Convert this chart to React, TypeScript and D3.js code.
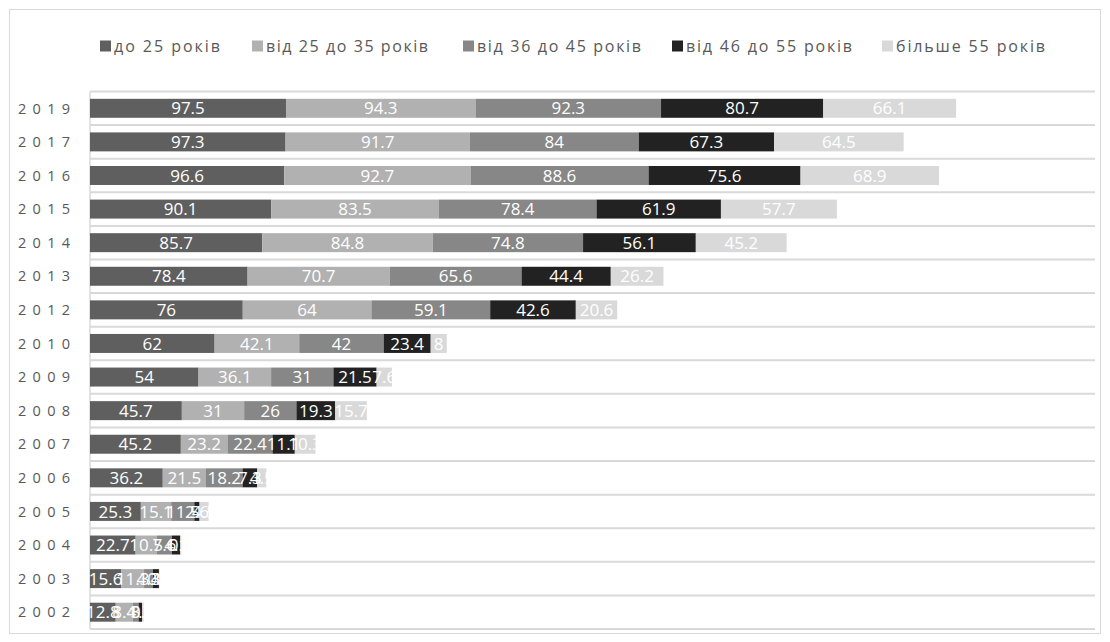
import React from "react";
import * as d3 from "d3";

const years = ["2019", "2017", "2016", "2015", "2014", "2013", "2012", "2010", "2009", "2008", "2007", "2006", "2005", "2004", "2003", "2002"];
const seriesNames = ["до 25 років", "від 25 до 35 років", "від 36 до 45 років", "від 46 до 55 років", "більше 55 років"];
const under25 = [97.5, 97.3, 96.6, 90.1, 85.7, 78.4, 76, 62, 54, 45.7, 45.2, 36.2, 25.3, 22.7, 15.6, 12.8];
const age25to35 = [94.3, 91.7, 92.7, 83.5, 84.8, 70.7, 64, 42.1, 36.1, 31, 23.2, 21.5, 15.1, 10.5, 11.3, 8.4];
const age36to45 = [92.3, 84, 88.6, 78.4, 74.8, 65.6, 59.1, 42, 31, 26, 22.4, 18.2, 11.5, 7.6, 4.4, 3.0];
const age46to55 = [80.7, 67.3, 75.6, 61.9, 56.1, 44.4, 42.6, 23.4, 21.5, 19.3, 11.1, 7.3, 2.6, 4.1, 3.0, 1.7];
const over55 = [66.1, 64.5, 68.9, 57.7, 45.2, 26.2, 20.6, 8, 7.6, 15.7, 10.3, 4.5, 4.5, 0.5, 0.3, 0.8];
const colors = ["#5f5f5f", "#b1b1b1", "#878787", "#222222", "#d9d9d9"];
const xMax = 500;

const seriesValues = [under25, age25to35, age36to45, age46to55, over55];
const legendX = [100, 252, 463, 672, 882];
const legendTextWidth = [106, 162, 164, 166, 149];

export default function App() {
  const left = 90;
  const right = 1095;
  const top = 91.5;
  const bottom = 629;
  const x = d3.scaleLinear().domain([0, xMax]).range([left, right]);
  const y = d3.scaleBand<string>().domain(years).range([top, bottom]).paddingInner(0.435).paddingOuter(0.2175);
  const step = y.step();

  const table = years.map((yr, i) => {
    const row: any = { year: yr };
    seriesNames.forEach((s, k) => (row[s] = seriesValues[k][i]));
    return row;
  });
  const stacked = d3.stack<any>().keys(seriesNames)(table);

  const font = "'Open Sans', 'Liberation Sans', sans-serif";

  return (
    <svg width={1110} height={642} style={{ position: "absolute", left: 0, top: 0, background: "#fff" }}>
      <rect x={9.5} y={9.5} width={1091} height={624} fill="#fff" stroke="#d9d9d9" strokeWidth={1} />
      {d3.range(years.length + 1).map((i) => (
        <line key={"g" + i} x1={left} x2={right} y1={top + i * step} y2={top + i * step} stroke="#d9d9d9" strokeWidth={2} />
      ))}
      <line x1={left} x2={left} y1={top} y2={bottom} stroke="#d9d9d9" strokeWidth={1.5} />
      {stacked.map((layer, k) => (
        <g key={"s" + k}>
          {layer.map((d, i) => (
            <rect key={i} x={x(d[0])} y={y(years[i])!} width={x(d[1]) - x(d[0])} height={y.bandwidth()} fill={colors[k]} />
          ))}
        </g>
      ))}
      {stacked.map((layer, k) => (
        <g key={"l" + k}>
          {layer.map((d, i) => (
            <text
              key={i}
              x={(x(d[0]) + x(d[1])) / 2}
              y={y(years[i])! + y.bandwidth() / 2}
              dy="0.36em"
              textAnchor="middle"
              fill="#ffffff"
              fontFamily={font}
              fontSize={17}
            >
              {String(seriesValues[k][i])}
            </text>
          ))}
        </g>
      ))}
      {years.map((yr) => (
        <text
          key={"y" + yr}
          x={18}
          y={y(yr)! + y.bandwidth() / 2}
          dy="0.36em"
          fill="#595959"
          fontFamily={font}
          fontSize={14.5}
          letterSpacing={6.3}
        >
          {yr}
        </text>
      ))}
      {seriesNames.map((s, k) => (
        <g key={"lg" + k} transform={`translate(${legendX[k]},46)`}>
          <rect x={0} y={-5.5} width={11} height={11} fill={colors[k]} />
          <text
            x={14}
            y={0}
            dy="0.36em"
            fill="#595959"
            fontFamily={font}
            fontSize={16}
            textLength={legendTextWidth[k]}
            lengthAdjust="spacing"
          >
            {s}
          </text>
        </g>
      ))}
    </svg>
  );
}
